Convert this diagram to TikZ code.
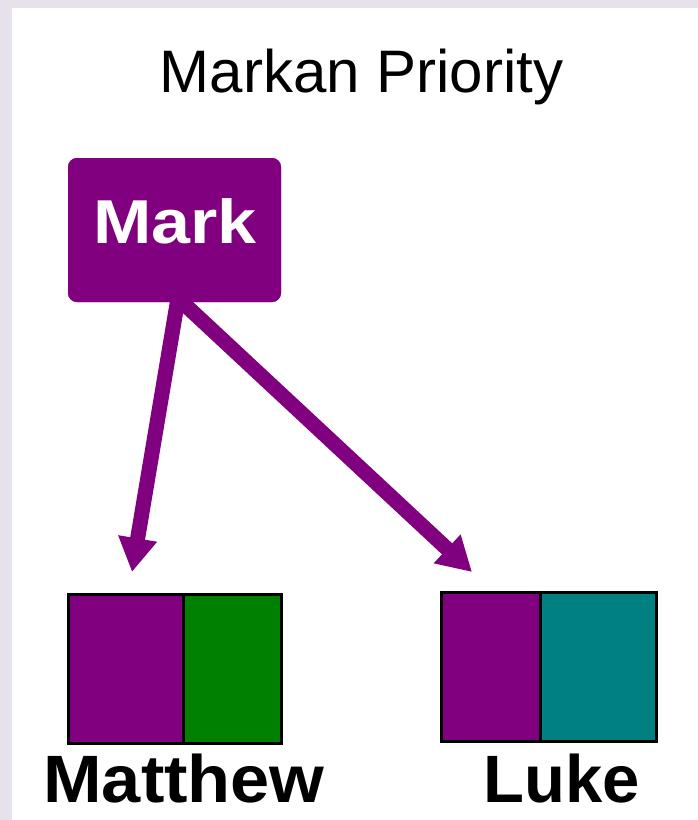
\documentclass[tikz,border=0pt]{standalone}
\usepackage{graphicx}
\usepackage{fontspec}
\setmainfont{Liberation Sans}
\usetikzlibrary{arrows.meta}
\definecolor{bgl}{RGB}{230,225,235}
\definecolor{mpurple}{RGB}{128,0,128}
\definecolor{mgreen}{RGB}{0,128,0}
\definecolor{mteal}{RGB}{0,128,128}
\tikzset{
  markbox/.style={draw=none, fill=mpurple, rounded corners=9pt, minimum width=213pt, minimum height=144pt, inner sep=0pt},
  half/.style={draw=black, line width=3pt, inner sep=0pt, minimum height=149pt},
  bigarrow/.style={draw=mpurple, line width=15pt, -{Triangle[width=37pt,length=34pt]}},
  titletext/.style={font=\fontsize{60}{72}\selectfont, inner sep=0pt},
  boldlabel/.style={font=\bfseries\fontsize{67}{78}\selectfont, inner sep=0pt},
}
\begin{document}
\begin{tikzpicture}[x={(1pt,0)}, y={(0,-1pt)}]
\useasboundingbox (0,0) rectangle (698,820);
\fill[bgl] (0,0) rectangle (698,820);
\fill[white] (12,8) rectangle (698,820);
% title
\node[titletext, anchor=base] (title) at (361.5,92) {Markan Priority};
% targets
\coordinate (tipM) at (132,572);
\coordinate (tipL) at (472,572);
% Mark box
\node[markbox] (mark) at (174.5,230) {};
\draw[bigarrow] ([xshift=3.5pt,yshift=4pt]mark.south) -- (tipM);
\draw[bigarrow] ([xshift=3.5pt,yshift=4pt]mark.south) -- (tipL);
\node[markbox] (markfront) at (174.5,230) {};
\node[boldlabel, text=white, anchor=base, font=\bfseries\fontsize{62}{74}\selectfont] (marktxt) at (175,243) {\scalebox{1.13}[1]{Mark}};
% Matthew box
\node[half, fill=mpurple, minimum width=115pt] (mattL) at (125.5,668.5) {};
\node[half, fill=mgreen, minimum width=98pt] (mattR) at (232,668.5) {};
% Luke box
\node[half, fill=mpurple, minimum width=99pt] (lukeL) at (490.5,666.5) {};
\node[half, fill=mteal, minimum width=116pt] (lukeR) at (598,666.5) {};
% labels
\node[boldlabel, anchor=base] (matthew) at (184,802) {\scalebox{1.05}[1]{Matthew}};
\node[boldlabel, anchor=base] (luke) at (561.5,802) {\scalebox{1.0}[1]{Luke}};
\end{tikzpicture}
\end{document}
